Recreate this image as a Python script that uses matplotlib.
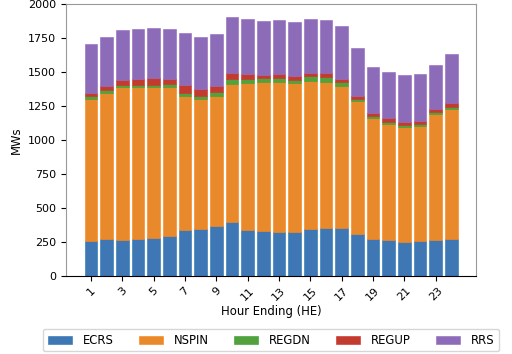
import matplotlib

matplotlib.use("Agg")

import matplotlib.pyplot as plt
import numpy as np

hours = list(range(1, 25))
tick_hours = list(range(1, 25, 2))

# MW per hour ending
ecrs = [257, 270, 265, 272, 277, 292, 336, 343, 368, 392, 338, 329,
        324, 319, 341, 351, 351, 304, 270, 262, 248, 253, 265, 270]
nspin = [1042, 1073, 1120, 1113, 1111, 1098, 990, 959, 958, 1020, 1081, 1093,
         1102, 1098, 1091, 1075, 1042, 978, 890, 853, 843, 847, 924, 954]
regdn = [25, 22, 15, 19, 19, 20, 20, 19, 25, 32, 32, 32,
         30, 24, 36, 35, 29, 17, 14, 15, 17, 15, 17, 19]
regup = [24, 30, 41, 42, 47, 39, 54, 52, 44, 44, 34, 22,
         29, 25, 25, 29, 24, 22, 22, 27, 24, 22, 22, 27]
rrs = [356, 365, 366, 368, 365, 365, 387, 382, 387, 416, 407, 397,
       393, 399, 395, 390, 392, 358, 341, 339, 344, 346, 324, 365]

series = [
    ("ECRS", ecrs, "#3f76b4", "#1f77b4"),
    ("NSPIN", nspin, "#e8892c", "#ff7f0e"),
    ("REGDN", regdn, "#54a03c", "#2ca02c"),
    ("REGUP", regup, "#c23b2f", "#d62728"),
    ("RRS", rrs, "#8c6bb8", "#9467bd"),
]

plt.rcParams["font.size"] = 8

fig, ax = plt.subplots(figsize=(5.12, 3.54), dpi=100)
fig.subplots_adjust(left=0.129, right=0.93, top=0.989, bottom=0.221)

bottom = np.zeros(len(hours))
for name, values, face, edge in series:
    vals = np.array(values, dtype=float)
    ax.bar(hours, vals, width=0.8, bottom=bottom, color=face,
           edgecolor=edge, linewidth=0.4, label=name)
    bottom += vals

ax.set_ylim(0, 2000)
ax.set_xticks(tick_hours)
ax.set_xticklabels([str(h) for h in tick_hours], rotation=45)
ax.set_xlabel("Hour Ending (HE)", fontsize=8.4, labelpad=2)
ax.set_ylabel("MWs", fontsize=8.4)
for side in ("top", "right", "left"):
    ax.spines[side].set_color("#999999")

ax.legend(loc="upper center", bbox_to_anchor=(0.5, -0.196), ncol=5,
          frameon=True, handlelength=2.06, handletextpad=0.95,
          columnspacing=2.15, fontsize=8.4, borderaxespad=0)

fig.savefig("out.png")
plt.close(fig)
